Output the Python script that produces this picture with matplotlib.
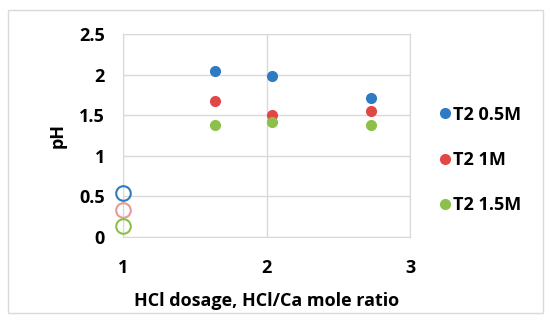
import matplotlib
matplotlib.use('Agg')
import matplotlib.pyplot as plt
from matplotlib.patches import Rectangle

plt.rcParams['font.family'] = ['Open Sans', 'DejaVu Sans']
plt.rcParams['font.weight'] = 'bold'

# measured pH vs HCl/Ca mole ratio
ratio = [1.64, 2.04, 2.73]
ph_05 = [2.04, 1.98, 1.71]
ph_10 = [1.68, 1.50, 1.55]
ph_15 = [1.38, 1.42, 1.38]

# starting points at ratio 1 (open circles)
start_ratio = [1, 1, 1]
start_ph = [0.54, 0.33, 0.14]

labels = ['T2 0.5M', 'T2 1M', 'T2 1.5M']
colors = ['#2E7BC4', '#E04848', '#8DC04A']
open_colors = ['#2E7BC4', '#E89A9A', '#8DC04A']

fig = plt.figure(figsize=(5.5, 3.23), dpi=100)
fig.patches.append(Rectangle((8 / 550, 10 / 323), 535 / 550, 303 / 323,
                             transform=fig.transFigure, fill=False,
                             edgecolor='#d9d9d9', linewidth=1))
ax = fig.add_axes([123 / 550, 1 - 237 / 323, 287 / 550, 203 / 323])

for ys, c, lab in zip([ph_05, ph_10, ph_15], colors, labels):
    ax.plot(ratio, ys, 'o', color=c, markersize=7, label=lab, zorder=3)

for x, y, c in zip(start_ratio, start_ph, open_colors):
    ax.plot(x, y, 'o', markerfacecolor='none', markeredgecolor=c,
            markersize=10.5, markeredgewidth=1.5, zorder=3, clip_on=False)

ax.set_xlim(1, 3)
ax.set_ylim(0, 2.5)
ax.set_xticks([1, 2, 3])
ax.set_yticks([0, 0.5, 1, 1.5, 2, 2.5])
ax.set_yticklabels(['0', '0.5', '1', '1.5', '2', '2.5'])
ax.grid(True, color='#d9d9d9', linewidth=1)
ax.set_axisbelow(True)
for s in ax.spines.values():
    s.set_color('#d9d9d9')
ax.tick_params(length=0, labelsize=13, colors='black')
ax.tick_params(axis='y', pad=13)
ax.tick_params(axis='x', pad=16)
for t in ax.get_xticklabels() + ax.get_yticklabels():
    t.set_fontweight('bold')

ax.set_xlabel('HCl dosage, HCl/Ca mole ratio', fontsize=13, fontweight='bold', labelpad=11)
ax.set_ylabel('pH', fontsize=13, fontweight='bold', labelpad=9)

leg = ax.legend(loc='center left', bbox_to_anchor=(1.04, 0.38), frameon=False,
                fontsize=13, handletextpad=0.05, labelspacing=1.5,
                handlelength=0.8, markerscale=1.0)
for t in leg.get_texts():
    t.set_fontweight('bold')

fig.savefig('out.png', dpi=100)
